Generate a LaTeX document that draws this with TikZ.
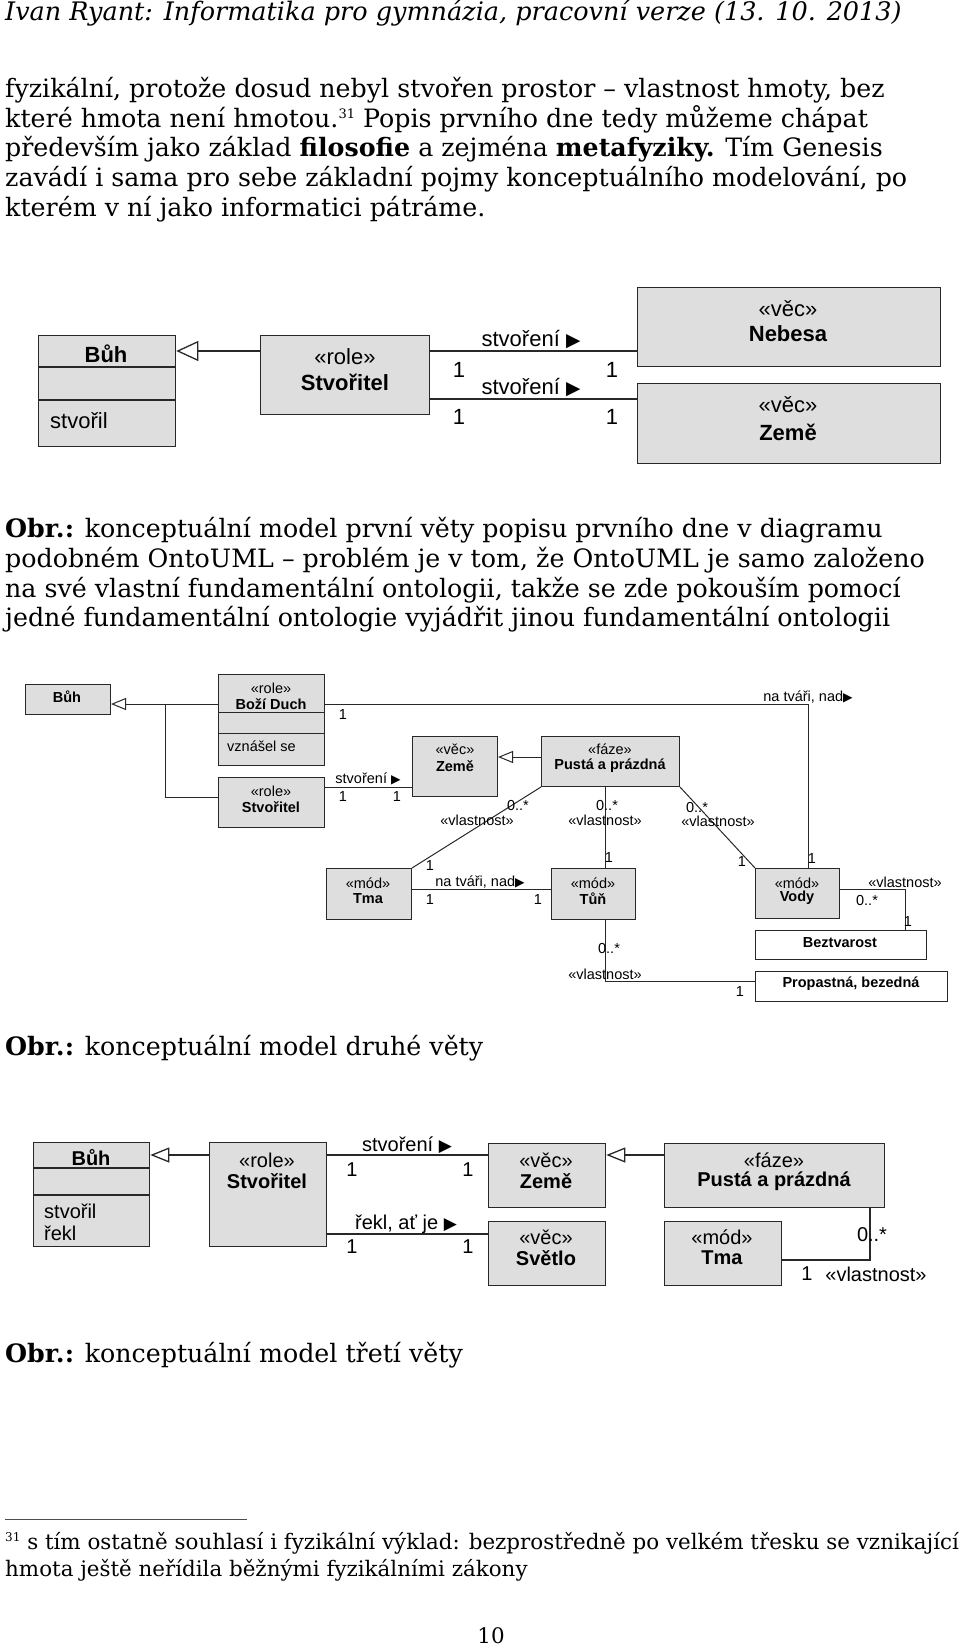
\documentclass[tikz,border=0pt]{standalone}
\usepackage{fontspec}
\usepackage{graphicx}
\setmainfont{DejaVu Serif}
\newfontfamily\arial{Liberation Sans}
\newfontfamily\djv{DejaVu Sans}
\usetikzlibrary{arrows.meta}
\definecolor{umlfill}{RGB}{222,222,222}
\definecolor{umlline}{RGB}{40,40,40}
\newcommand\tri{\scalebox{0.85}{\djv ▶}}
\newcommand\bodyfnt{\fontsize{25.3}{30}\selectfont}
\newcommand\fnfnt{\fontsize{21.4}{25}\selectfont}
\begin{document}
\begin{tikzpicture}[x=1pt,y=-1pt,
  body/.style={anchor=base west, inner sep=0pt, font=\bodyfnt},
  fnote/.style={anchor=base west, inner sep=0pt, font=\fnfnt},
  box/.style={draw=umlline, fill=umlfill, line width=1.3pt, anchor=north west, inner sep=0pt},
  wbox/.style={draw=umlline, fill=white, line width=1.1pt, anchor=north west, inner sep=0pt},
  da/.style={inner sep=0pt, font=\arial\fontsize{22}{26}\selectfont},
  db/.style={inner sep=0pt, font=\arial\bfseries\fontsize{22}{26}\selectfont},
  ea/.style={inner sep=0pt, font=\arial\fontsize{14.5}{17}\selectfont},
  eb/.style={inner sep=0pt, font=\arial\bfseries\fontsize{14.5}{17}\selectfont},
  fa/.style={inner sep=0pt, font=\arial\fontsize{20}{24}\selectfont},
  fb/.style={inner sep=0pt, font=\arial\bfseries\fontsize{20}{24}\selectfont},
  conA/.style={draw=umlline, line width=1.3pt},
  conB/.style={draw=umlline, line width=1pt},
  genA/.style={conA, -{Triangle[open, length=22pt, width=20pt, line width=1.3pt]}},
  genB/.style={conB, -{Triangle[open, length=15pt, width=12pt, line width=1pt]}},
  genC/.style={conA, -{Triangle[open, length=19pt, width=15pt, line width=1.3pt]}}
]
\fill[white] (0,0) rectangle (960,1648);
\useasboundingbox (0,0) rectangle (960,1648);

% ---------- text ----------
\node[body, font=\fontsize{25.5}{30}\selectfont\itshape] (hdr) at (5,21) {Ivan Ryant: Informatika pro gymnázia, pracovní verze (13. 10. 2013)};
\node[body] (b1) at (5,98) {fyzikální, protože dosud nebyl stvořen prostor – vlastnost hmoty, bez};
\node[body] (b2) at (5,128) {které hmota není hmotou.\raisebox{9pt}{\fontsize{13}{13}\selectfont 31} Popis prvního dne tedy můžeme chápat};
\node[body] (b3) at (5,157) {především jako základ \textbf{filosofie} a zejména \textbf{metafyziky.} Tím Genesis};
\node[body] (b4) at (5,187) {zavádí i sama pro sebe základní pojmy konceptuálního modelování, po};
\node[body] (b5) at (5,216) {kterém v ní jako informatici pátráme.};

\node[body] (c1a) at (5,537) {\textbf{Obr.:} konceptuální model první věty popisu prvního dne v diagramu};
\node[body] (c1b) at (5,567) {podobném OntoUML – problém je v tom, že OntoUML je samo založeno};
\node[body] (c1c) at (5,597) {na své vlastní fundamentální ontologii, takže se zde pokouším pomocí};
\node[body] (c1d) at (5,626) {jedné fundamentální ontologie vyjádřit jinou fundamentální ontologii};

\node[body] (c2) at (5,1055) {\textbf{Obr.:} konceptuální model druhé věty};
\node[body] (c3) at (5,1362) {\textbf{Obr.:} konceptuální model třetí věty};

\coordinate (fr1) at (5,1519);
\coordinate (fr2) at (247,1519);
\draw[line width=1pt, black!70] (fr1) -- (fr2);
\node[fnote] (f1) at (5,1549) {\raisebox{8pt}{\fontsize{12}{12}\selectfont 31} s tím ostatně souhlasí i fyzikální výklad: bezprostředně po velkém třesku se vznikající};
\node[fnote] (f2) at (5,1576) {hmota ještě neřídila běžnými fyzikálními zákony};
\node[inner sep=0pt, anchor=base, font=\fnfnt] (pg) at (491,1643) {10};

% ---------- diagram 1 ----------
\node[box, minimum width=137pt, minimum height=111pt] (buh1) at (38,335) {};
\draw[conA] (buh1.west |- 0,367) -- (buh1.east |- 0,367);
\draw[conA] (buh1.west |- 0,400) -- (buh1.east |- 0,400);
\node[box, minimum width=169pt, minimum height=79pt] (stv1) at (260,335) {};
\node[box, minimum width=303pt, minimum height=79pt] (neb) at (637,287) {};
\node[box, minimum width=303pt, minimum height=80pt] (zem1) at (637,383) {};
\draw[genA] (stv1.west |- 0,351) -- (buh1.east |- 0,351);
\draw[conA] (stv1.east |- 0,351) -- (neb.west |- 0,351);
\draw[conA] (stv1.east |- 0,399) -- (zem1.west |- 0,399);

\node[db] (t1a) at (106,354) {Bůh};
\node[da, anchor=west] (t1b) at (50,421) {stvořil};
\node[da] (t1c) at (345,357) {«role»};
\node[db] (t1d) at (345,382) {Stvořitel};
\node[da] (t1e) at (531,340) {stvoření \tri};
\node[da] (t1f) at (531,388) {stvoření \tri};
\node[da] (m1a) at (459,370) {1};
\node[da] (m1b) at (612,370) {1};
\node[da] (m1c) at (459,417) {1};
\node[da] (m1d) at (612,417) {1};
\node[da] (t1g) at (788,309) {«věc»};
\node[db] (t1h) at (788,334) {Nebesa};
\node[da] (t1i) at (788,405) {«věc»};
\node[db] (t1j) at (788,432) {Země};

% ---------- diagram 2 ----------
\node[box, line width=1pt, minimum width=85pt, minimum height=30pt] (buh2) at (25,684) {};
\node[box, line width=1pt, minimum width=106pt, minimum height=91pt] (bd) at (218,674) {};
\draw[conB] (bd.west |- 0,712) -- (bd.east |- 0,712);
\draw[conB] (bd.west |- 0,733) -- (bd.east |- 0,733);
\node[box, line width=1pt, minimum width=106pt, minimum height=50pt] (st2) at (218,777) {};
\node[box, line width=1pt, minimum width=85pt, minimum height=60pt] (zem2) at (412,736) {};
\node[box, line width=1pt, minimum width=138pt, minimum height=50pt] (pp2) at (541,736) {};
\node[box, line width=1pt, minimum width=85pt, minimum height=51pt] (tma2) at (326,868) {};
\node[box, line width=1pt, minimum width=84pt, minimum height=51pt] (tun) at (551,868) {};
\node[box, line width=1pt, minimum width=84pt, minimum height=50pt] (vody) at (755,868) {};
\node[wbox, line width=1pt, minimum width=171pt, minimum height=29pt] (bz) at (755,930) {};
\node[wbox, line width=1pt, minimum width=192pt, minimum height=30pt] (prop) at (755,971) {};

\coordinate (j2) at (165,704);
\draw[genB] (bd.west |- 0,704) -- (buh2.east |- 0,704);
\draw[conB] (j2) |- (st2.west |- 0,797);
\draw[conB] (bd.east |- 0,704) -| (vody.north -| 808,0);
\draw[conB] (st2.east |- 0,787) -- (zem2.west |- 0,787);
\draw[genB] (pp2.west |- 0,757) -- (zem2.east |- 0,757);
\draw[conB] (pp2.south west) -- (tma2.north east);
\draw[conB] (605,0 |- pp2.south) -- (605,0 |- tun.north);
\draw[conB] (pp2.south east) -- (vody.north west);
\draw[conB] (tma2.east |- 0,889) -- (tun.west |- 0,889);
\draw[conB] (vody.east |- 0,889) -| (bz.north -| 905,0);
\draw[conB] (605,0 |- tun.south) |- (prop.west |- 0,981);

\node[eb] (t2a) at (67,697) {Bůh};
\node[ea] (t2b) at (271,688) {«role»};
\node[eb] (t2c) at (271,704) {Boží Duch};
\node[ea, anchor=west] (t2d) at (227,746) {vznášel se};
\node[ea] (t2e) at (271,791) {«role»};
\node[eb] (t2f) at (271,807) {Stvořitel};
\node[ea] (m2a) at (343,715) {1};
\node[ea] (t2g) at (808,697) {na tváři, nad\tri};
\node[ea] (t2h) at (368,779) {stvoření \tri};
\node[ea] (m2b) at (343,797) {1};
\node[ea] (m2c) at (397,797) {1};
\node[ea] (t2i) at (455,749) {«věc»};
\node[eb] (t2j) at (455,766) {Země};
\node[ea] (t2k) at (610,749) {«fáze»};
\node[eb] (t2l) at (610,766) {Pustá a prázdná};
\node[ea] (m2d) at (518,805) {0..*};
\node[ea] (t2m) at (477,820) {«vlastnost»};
\node[ea] (m2e) at (430,866) {1};
\node[ea] (m2f) at (607,805) {0..*};
\node[ea] (t2n) at (605,820) {«vlastnost»};
\node[ea] (m2g) at (609,858) {1};
\node[ea] (m2h) at (697,807) {0..*};
\node[ea] (t2o) at (718,821) {«vlastnost»};
\node[ea] (m2i) at (742,862) {1};
\node[ea] (m2j) at (812,859) {1};
\node[ea] (t2p) at (368,883) {«mód»};
\node[eb] (t2q) at (368,899) {Tma};
\node[ea] (t2r) at (480,882) {na tváři, nad\tri};
\node[ea] (m2k) at (430,900) {1};
\node[ea] (m2l) at (538,900) {1};
\node[ea] (t2s) at (593,883) {«mód»};
\node[eb] (t2t) at (593,899) {Tůň};
\node[ea] (t2u) at (797,883) {«mód»};
\node[eb] (t2v) at (797,898) {Vody};
\node[ea] (t2w) at (905,882) {«vlastnost»};
\node[ea] (m2m) at (867,900) {0..*};
\node[ea] (m2n) at (908,922) {1};
\node[eb] (t2x) at (840,943) {Beztvarost};
\node[ea] (m2o) at (609,948) {0..*};
\node[ea] (t2y) at (605,974) {«vlastnost»};
\node[ea] (m2p) at (740,992) {1};
\node[eb] (t2z) at (851,984) {Propastná, bezedná};

% ---------- diagram 3 ----------
\node[box, minimum width=116pt, minimum height=104pt] (buh3) at (33,1142) {};
\draw[conA] (buh3.west |- 0,1168) -- (buh3.east |- 0,1168);
\draw[conA] (buh3.west |- 0,1195) -- (buh3.east |- 0,1195);
\node[box, minimum width=117pt, minimum height=104pt] (st3) at (209,1142) {};
\node[box, minimum width=117pt, minimum height=64pt] (zem3) at (488,1143) {};
\node[box, minimum width=117pt, minimum height=64pt] (sv3) at (488,1221) {};
\node[box, minimum width=220pt, minimum height=64pt] (pp3) at (664,1143) {};
\node[box, minimum width=117pt, minimum height=64pt] (tma3) at (664,1221) {};

\draw[genC] (st3.west |- 0,1155) -- (buh3.east |- 0,1155);
\draw[conA] (st3.east |- 0,1155) -- (zem3.west |- 0,1155);
\draw[conA] (st3.east |- 0,1234) -- (sv3.west |- 0,1234);
\draw[genC] (pp3.west |- 0,1155) -- (zem3.east |- 0,1155);
\draw[conA] (tma3.east |- 0,1260) -| (870,0 |- pp3.south);

\node[fb] (t3a) at (91,1158) {Bůh};
\node[fa, anchor=west] (t3b) at (44,1211) {stvořil};
\node[fa, anchor=west] (t3c) at (44,1233) {řekl};
\node[fa] (t3d) at (267,1160) {«role»};
\node[fb] (t3e) at (267,1181) {Stvořitel};
\node[fa] (t3f) at (407,1145) {stvoření \tri};
\node[fa] (m3a) at (352,1170) {1};
\node[fa] (m3b) at (468,1170) {1};
\node[fa] (t3g) at (406,1224) {řekl, ať je \tri};
\node[fa] (m3c) at (352,1247) {1};
\node[fa] (m3d) at (468,1247) {1};
\node[fa] (t3h) at (546,1160) {«věc»};
\node[fb] (t3i) at (546,1181) {Země};
\node[fa] (t3j) at (546,1237) {«věc»};
\node[fb] (t3k) at (546,1258) {Světlo};
\node[fa] (t3l) at (774,1160) {«fáze»};
\node[fb] (t3m) at (774,1181) {Pustá a prázdná};
\node[fa] (t3n) at (722,1237) {«mód»};
\node[fb] (t3o) at (722,1258) {Tma};
\node[fa] (m3e) at (872,1235) {0..*};
\node[fa] (m3f) at (807,1274) {1};
\node[fa] (t3p) at (876,1274) {«vlastnost»};
\end{tikzpicture}
\end{document}
